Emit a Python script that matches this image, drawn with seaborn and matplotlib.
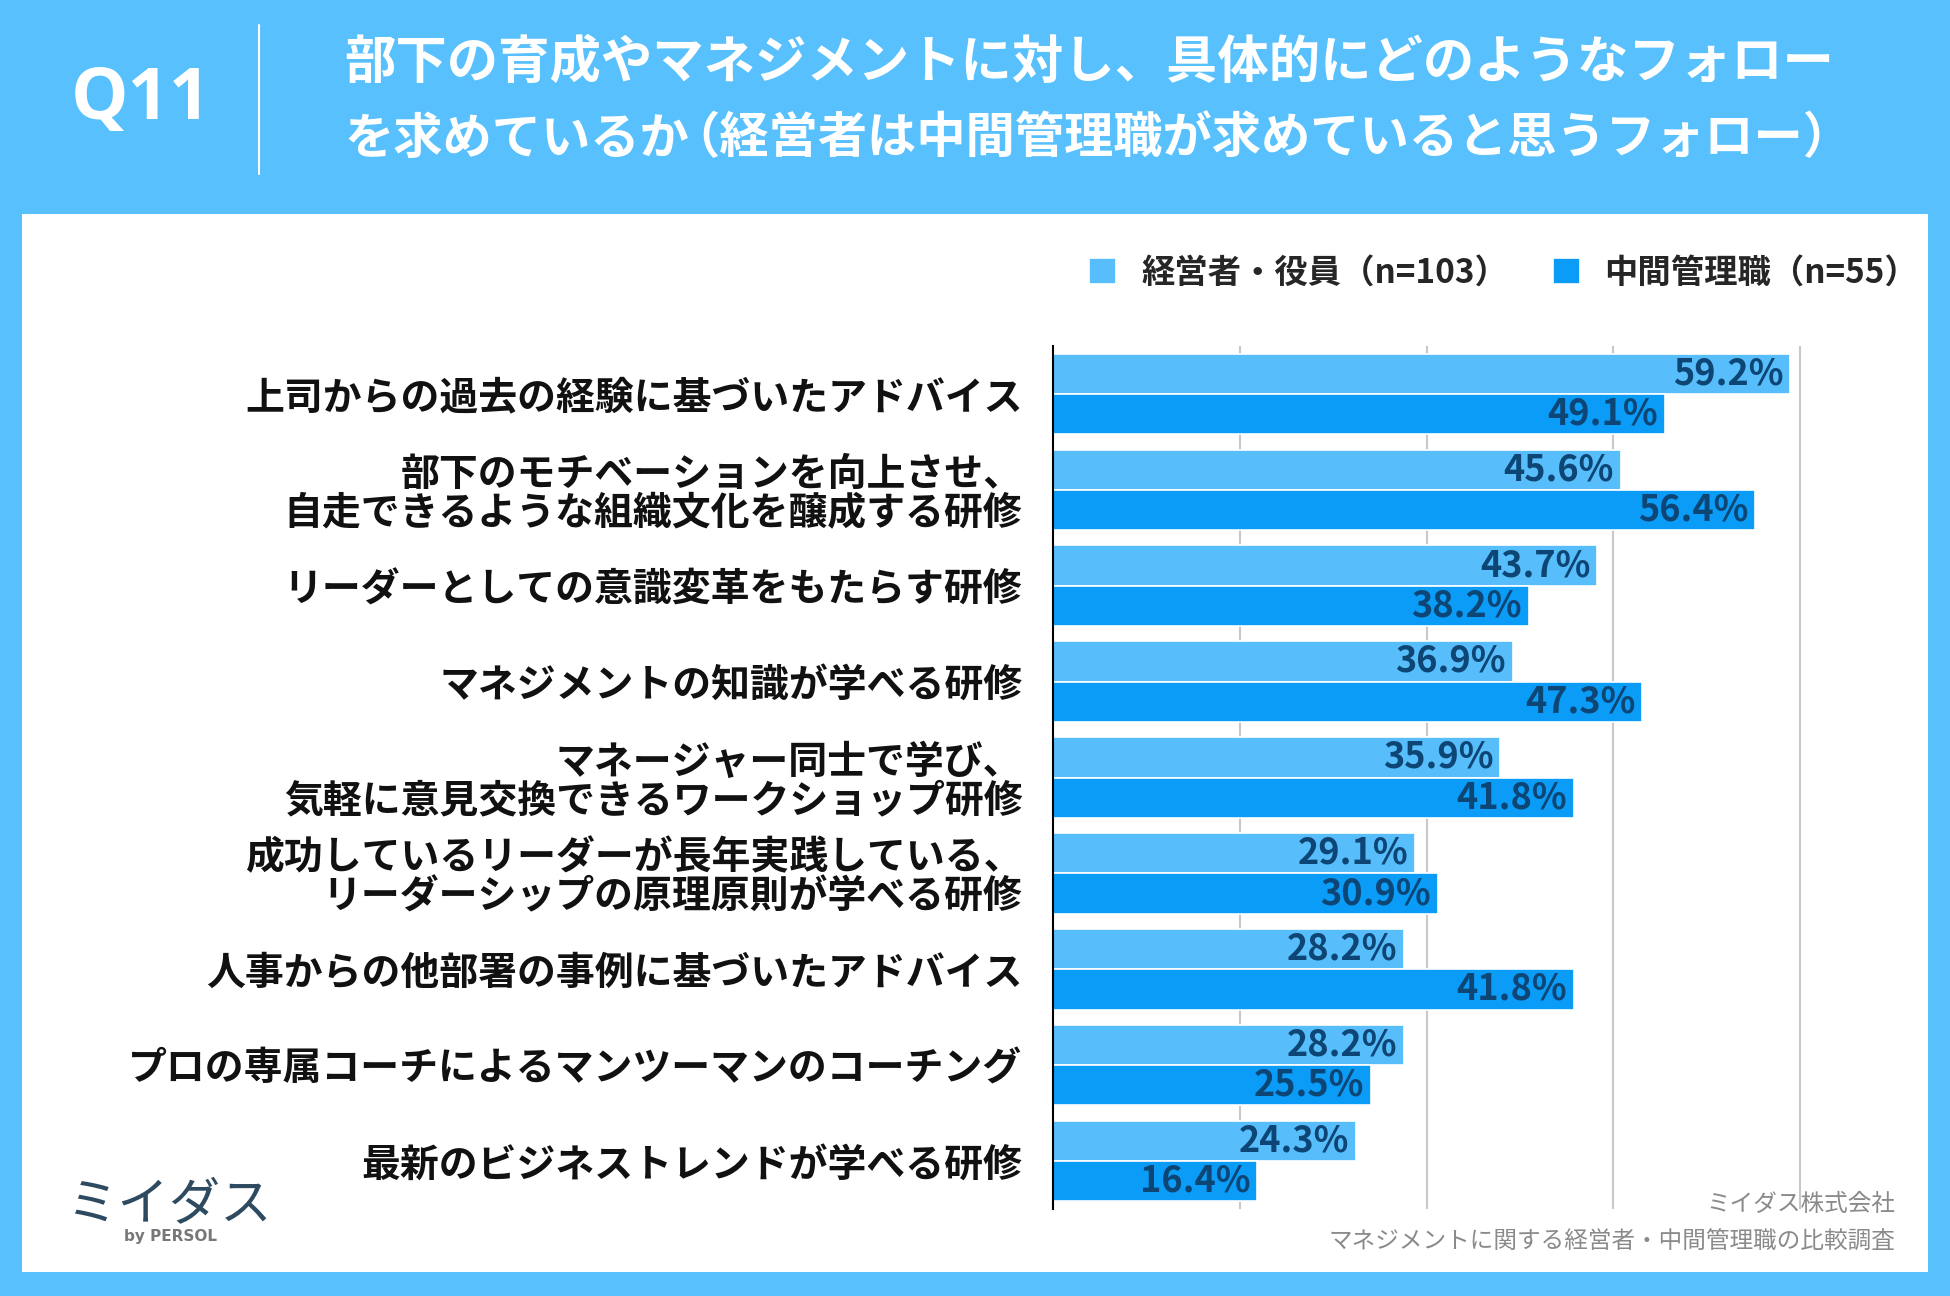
import matplotlib
matplotlib.use("Agg")
import matplotlib.pyplot as plt
from matplotlib.patches import Rectangle
import seaborn as sns
import pandas as pd

# ---- data ----
items = [
    "上司からの過去の経験に基づいたアドバイス",
    "部下のモチベーションを向上させ、\n自走できるような組織文化を醸成する研修",
    "リーダーとしての意識変革をもたらす研修",
    "マネジメントの知識が学べる研修",
    "マネージャー同士で学び、\n気軽に意見交換できるワークショップ研修",
    "成功しているリーダーが長年実践している、\nリーダーシップの原理原則が学べる研修",
    "人事からの他部署の事例に基づいたアドバイス",
    "プロの専属コーチによるマンツーマンのコーチング",
    "最新のビジネストレンドが学べる研修",
]
series_names = ["経営者・役員（n=103）", "中間管理職（n=55）"]
exec_values = [59.2, 45.6, 43.7, 36.9, 35.9, 29.1, 28.2, 28.2, 24.3]
mgr_values = [49.1, 56.4, 38.2, 47.3, 41.8, 30.9, 41.8, 25.5, 16.4]
grid_ticks = [15, 30, 45, 60]

title_line1 = "部下の育成やマネジメントに対し、具体的にどのようなフォロー"
title_line2a = "を求めているか"
title_line2b = "（経営者は中間管理職が求めていると思うフォロー）"
q_label = "Q11"
footer1 = "ミイダス株式会社"
footer2 = "マネジメントに関する経営者・中間管理職の比較調査"

df = pd.DataFrame({
    "item": items * 2,
    "value": exec_values + mgr_values,
    "group": [series_names[0]] * len(items) + [series_names[1]] * len(items),
})

# ---- style ----
BG = "#58C0FC"
LIGHT = "#57BEFB"
DARK = "#0A9CF7"
LABEL_C = "#0D4675"

sns.set_theme(style="white")
plt.rcParams["font.family"] = ["Noto Sans CJK JP", "DejaVu Sans"]

W, H = 1950, 1296
fig = plt.figure(figsize=(W / 100, H / 100), dpi=100, facecolor=BG)

# white panel
fig.patches.append(Rectangle((22 / W, 1 - 1272 / H), (1928 - 22) / W, (1272 - 214) / H,
                             transform=fig.transFigure, facecolor="white",
                             edgecolor="none", zorder=-5))

# header
fig.text(141 / W, 1 - 100 / H, q_label, color="white", fontsize=52,
         fontweight="bold", ha="center", va="center", family=["Open Sans", "DejaVu Sans"])
fig.add_artist(plt.Line2D([259 / W, 259 / W], [1 - 25 / H, 1 - 174 / H],
                          transform=fig.transFigure, color="white", lw=1.5))
fig.text(344 / W, 1 - 62 / H, title_line1, color="white", fontsize=37,
         fontweight="bold", ha="left", va="center")
t2a = fig.text(344 / W, 1 - 139 / H, title_line2a, color="white", fontsize=35.5,
               fontweight="bold", ha="left", va="center")
renderer = fig.canvas.get_renderer()
bb = t2a.get_window_extent(renderer)
em = 35.5 * 100 / 72
fig.text((bb.x1 - 0.38 * em) / W, 1 - 139 / H, title_line2b, color="white",
         fontsize=35.5, fontweight="bold", ha="left", va="center")

# axes
x0, x1, y0, y1 = 1053, 1875, 346, 1209
ax = fig.add_axes([x0 / W, 1 - y1 / H, (x1 - x0) / W, (y1 - y0) / H])
ax.set_facecolor("none")

sns.barplot(data=df, y="item", x="value", hue="group", order=items,
            hue_order=series_names, palette=[LIGHT, DARK], orient="h",
            saturation=1, width=0.84, edgecolor="white", linewidth=1.2,
            ax=ax, zorder=3)

ax.set_xlim(0, 66)
ax.set_ylim(len(items) - 0.5, -0.5)
ax.set_xticks(grid_ticks)
ax.set_xticklabels([])
ax.tick_params(axis="x", length=0)
ax.grid(axis="x", color="#C8C8C8", linewidth=1.5, zorder=0)
ax.grid(axis="y", visible=False)
ax.set_axisbelow(True)
for s in ["top", "right", "bottom"]:
    ax.spines[s].set_visible(False)
ax.spines["left"].set_color("black")
ax.spines["left"].set_linewidth(1.5)
ax.spines["left"].set_zorder(5)
ax.set_xlabel("")
ax.set_ylabel("")
ax.tick_params(axis="y", length=0, pad=22)
for t in ax.get_yticklabels():
    t.set_fontsize(28)
    t.set_fontweight("bold")
    t.set_color("#111111")
    t.set_linespacing(1.0)

# value labels
for cont in ax.containers:
    for bar in cont:
        v = bar.get_width()
        ax.text(v - 0.55, bar.get_y() + bar.get_height() / 2, f"{v:.1f}%",
                ha="right", va="center", fontsize=26, fontweight="bold",
                color=LABEL_C, zorder=6)

# legend
handles, labels = ax.get_legend_handles_labels()
ax.legend(handles, labels, loc="center right", ncol=2, frameon=False,
          bbox_to_anchor=(1935 / W, 1 - 273 / H), bbox_transform=fig.transFigure,
          prop={"size": 24, "weight": "bold"}, borderpad=0,
          handlelength=0.8, handleheight=0.8, handletextpad=0.75,
          columnspacing=1.35)

# footer
fig.text(1895 / W, 1 - 1204 / H, footer1, color="#8A8A8A", fontsize=17,
         ha="right", va="center")
fig.text(1895 / W, 1 - 1241 / H, footer2, color="#8A8A8A", fontsize=17,
         ha="right", va="center")

# logo text
fig.text(170 / W, 1 - 1204 / H, "ミイダス", color="#2E4A60", fontsize=37,
         ha="center", va="center")
fig.text(170 / W, 1 - 1237 / H, "by PERSOL", color="#777777", fontsize=11,
         ha="center", va="center", fontweight="bold", family=["DejaVu Sans"])

fig.savefig("out.png", dpi=100, facecolor=BG)
